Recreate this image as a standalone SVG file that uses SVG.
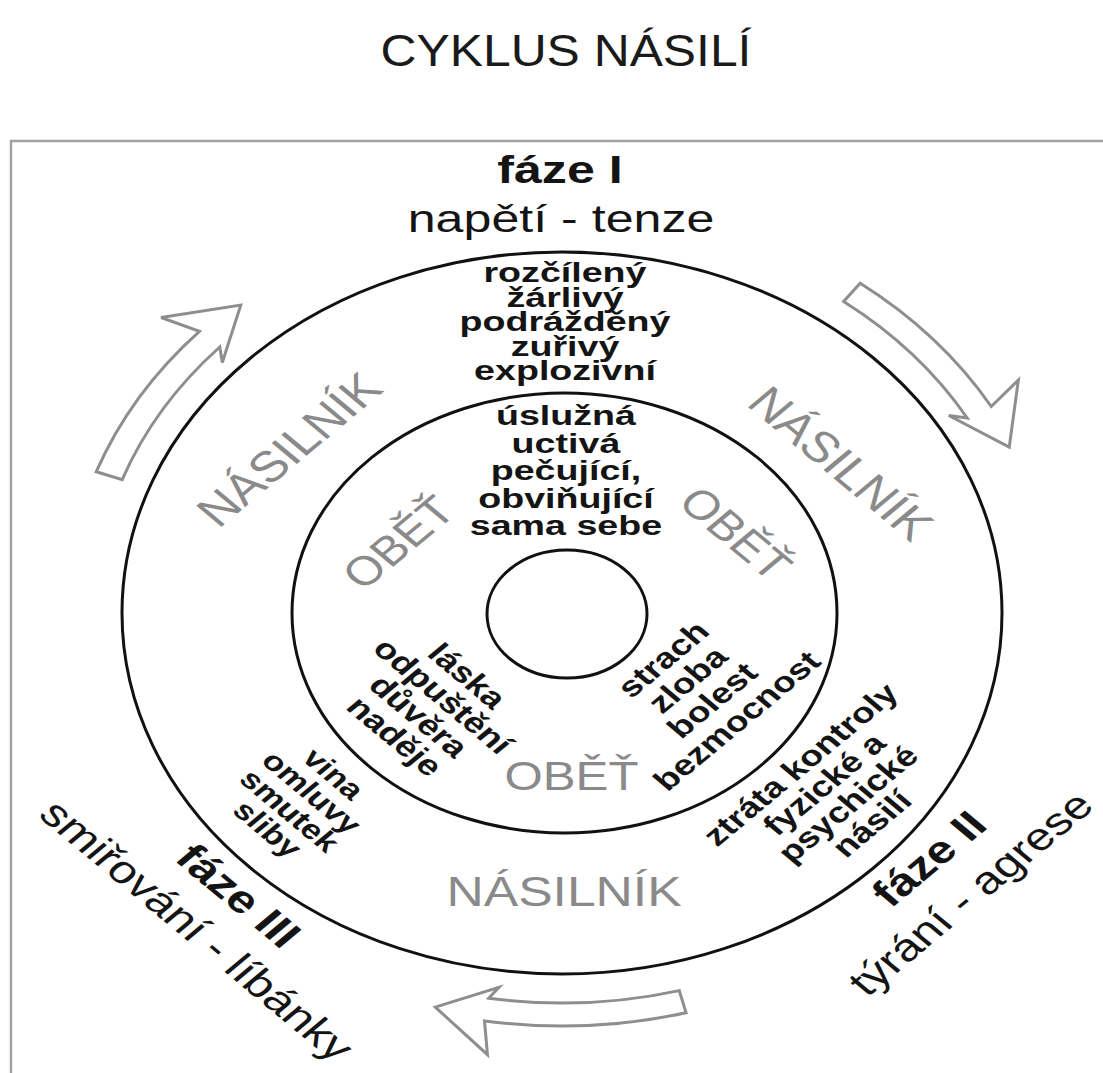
<svg xmlns="http://www.w3.org/2000/svg" width="1103" height="1073" viewBox="0 0 1103 1073">
<style>
text{font-family:"Liberation Sans",Arial,Helvetica,sans-serif;text-anchor:middle}
.b{font-weight:bold;fill:#141414;font-size:28.5px}
.b27{font-weight:bold;fill:#141414;font-size:27px}
.g{fill:#8a8a8a;font-size:43px}
.g41{fill:#8a8a8a;font-size:41px}
.ph{font-size:38px;fill:#141414}
.phb{font-size:38px;fill:#141414;font-weight:bold}
.ring{fill:none;stroke:#111;stroke-width:3}
.arr{fill:#fff;stroke:#8e8e8e;stroke-width:3;stroke-linejoin:miter;vector-effect:non-scaling-stroke}
</style>
<rect width="1103" height="1073" fill="#fff"/>
<path id="frame" d="M11 1073 V141 H1103" fill="none" stroke="#a3a3a3" stroke-width="2.5"/>
<g id="title"><text transform="translate(566 66) scale(1.107 1)" font-size="45" fill="#1a1a1a">CYKLUS NÁSILÍ</text></g>
<g id="rings">
<ellipse class="ring" cx="562" cy="613" rx="440" ry="361"/>
<ellipse class="ring" cx="564.5" cy="613" rx="272.5" ry="220"/>
<ellipse class="ring" cx="567" cy="614" rx="80" ry="64"/>
</g>
<g transform="translate(562 613) scale(1.2 1)">
<g id="connectors">
<path class="arr" d="M -388.1 -141.3 A 413 413 0 0 1 -302.1 -281.7 L -334.1 -295.5 L -267.7 -307.9 L -283.1 -250.5 L -285.2 -266.0 A 390 390 0 0 0 -366.5 -133.4 Z"/>
<path class="arr" d="M 248.5 -329.8 A 413 413 0 0 1 357.7 -206.5 L 380.3 -233.0 L 372.7 -165.9 L 322.3 -197.5 L 337.7 -195 A 390 390 0 0 0 234.7 -311.5 Z"/>
<path class="arr" d="M 103.4 399.8 A 413 413 0 0 1 -64.6 407.9 L -62.1 441.7 L -105.6 394.1 L -52.6 374.3 L -61.0 385.2 A 390 390 0 0 0 97.7 377.6 Z"/>
</g>
<g id="phase-1">
<text class="phb" transform="translate(-1.7 -430) scale(1.1 1)">fáze I</text>
<text class="ph" transform="translate(-0.8 -381) scale(1.1 1)">napětí - tenze</text>
</g>
<g id="phase-2" transform="translate(327 267) rotate(-45) scale(1.1 1)">
<text class="phb" y="-17">fáze II</text>
<text class="ph" y="32">týrání - agrese</text>
</g>
<g id="phase-3" transform="translate(-290.8 304) rotate(45) scale(1.1 1)">
<text class="phb" y="-17">fáze III</text>
<text class="ph" y="32">smiřování - líbánky</text>
</g>
<g id="abuser-labels">
<text class="g" transform="translate(-217 -153) rotate(-45)">NÁSILNÍK</text>
<text class="g" transform="translate(222 -139) rotate(45)">NÁSILNÍK</text>
<text class="g" x="1.7" y="293">NÁSILNÍK</text>
</g>
<g id="victim-labels">
<text class="g41" transform="translate(-136.7 -71) rotate(-45)" y="14.7">OBĚŤ</text>
<text class="g41" transform="translate(145 -80) rotate(45)" y="14.7">OBĚŤ</text>
<text class="g41" x="7.9" y="177">OBĚŤ</text>
</g>
<g id="abuser-tension" transform="translate(2.5 0) scale(1.1 1)">
<text class="b" y="-331">rozčílený</text>
<text class="b" y="-306.4">žárlivý</text>
<text class="b" y="-281.8">podrážděný</text>
<text class="b" y="-257.2">zuřivý</text>
<text class="b" y="-232.6">explozivní</text>
</g>
<g id="victim-tension" transform="translate(3.3 0) scale(1.1 1)">
<text class="b" y="-188">úslužná</text>
<text class="b" y="-160.5">uctivá</text>
<text class="b" y="-133">pečující,</text>
<text class="b" y="-105.5">obviňující</text>
<text class="b" y="-78">sama sebe</text>
</g>
<g id="victim-reconciliation" transform="translate(-110 94) rotate(45) scale(1.1 1)">
<text class="b" y="-34.25">láska</text>
<text class="b" y="-5.75">odpuštění</text>
<text class="b" y="22.75">důvěra</text>
<text class="b" y="51.25">naděje</text>
</g>
<g id="victim-aggression" transform="translate(115.8 78) rotate(-45) scale(1.1 1)">
<text class="b" y="-35">strach</text>
<text class="b" y="-6">zloba</text>
<text class="b" y="23">bolest</text>
<text class="b" y="52">bezmocnost</text>
</g>
<g id="abuser-reconciliation" transform="translate(-218.3 189) rotate(45) scale(1.1 1)">
<text class="b27" y="-30.5">vina</text>
<text class="b27" y="-4.5">omluvy</text>
<text class="b27" y="21.5">smutek</text>
<text class="b27" y="47.5">sliby</text>
</g>
<g id="abuser-aggression" transform="translate(229.2 182) rotate(-45) scale(1.1 1)">
<text class="b" y="-33.5">ztráta kontroly</text>
<text class="b" y="-5.5">fyzické a</text>
<text class="b" y="22.5">psychické</text>
<text class="b" y="50.5">násilí</text>
</g>
</g>
</svg>
